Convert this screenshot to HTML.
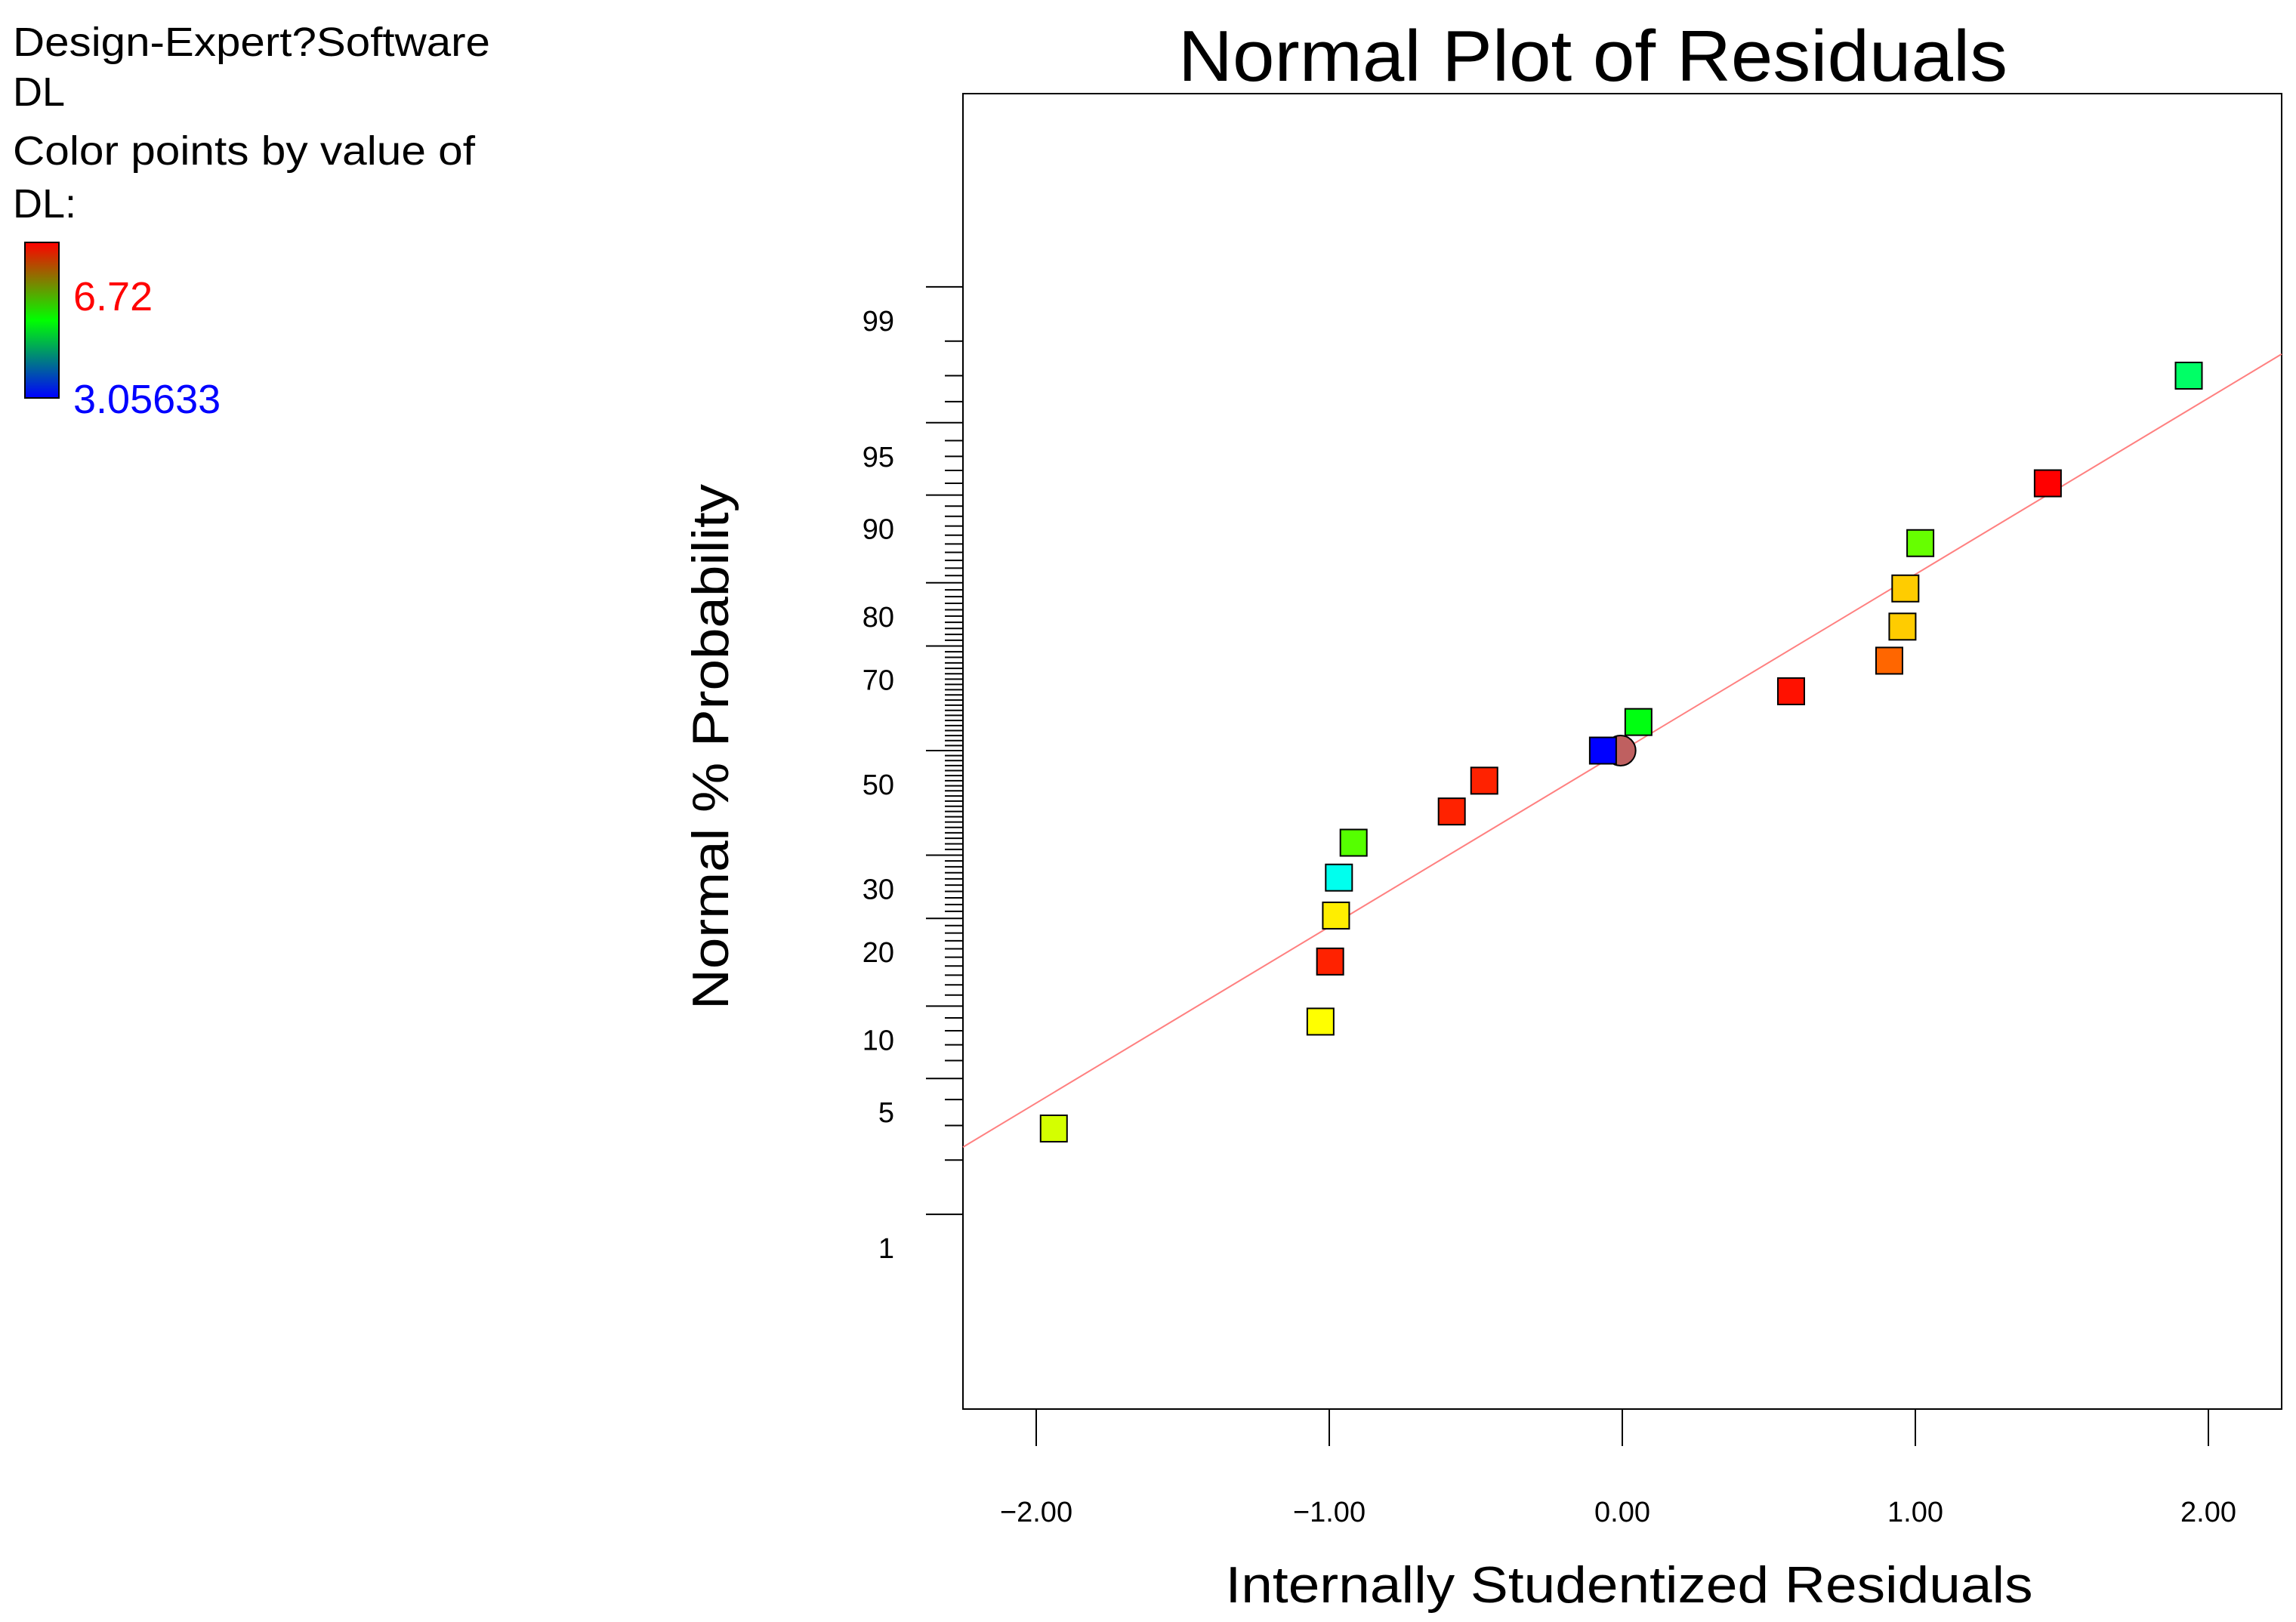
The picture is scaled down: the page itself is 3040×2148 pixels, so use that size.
<!DOCTYPE html>
<html><head><meta charset="utf-8">
<style>
html,body{margin:0;padding:0;background:#fff;}
svg{display:block;font-family:"Liberation Sans",Arial,sans-serif;}
</style></head>
<body>
<svg id="chart" width="3040" height="2148" viewBox="0 0 3040 2148" xmlns="http://www.w3.org/2000/svg">
  <defs>
    <linearGradient id="cbar" x1="0" y1="0" x2="0" y2="1">
      <stop offset="0" stop-color="#ff0000"/>
      <stop offset="0.5" stop-color="#00ff00"/>
      <stop offset="1" stop-color="#0000ff"/>
    </linearGradient>
  </defs>
  <g>
    <text x="17" y="74" font-size="54" textLength="632" lengthAdjust="spacingAndGlyphs">Design-Expert?Software</text>
    <text x="17" y="140" font-size="54">DL</text>
    <text x="17" y="218" font-size="54" textLength="612" lengthAdjust="spacingAndGlyphs">Color points by value of</text>
    <text x="17" y="288" font-size="54">DL:</text>
    <rect x="33" y="321" width="45" height="206" fill="url(#cbar)" stroke="#000" stroke-width="2"/>
    <text x="97" y="411" font-size="54" fill="#ff0000">6.72</text>
    <text x="97" y="547" font-size="54" fill="#0000ff">3.05633</text>
  </g>
  <text x="2109" y="107" font-size="96" text-anchor="middle" textLength="1098" lengthAdjust="spacingAndGlyphs">Normal Plot of Residuals</text>
  <rect x="1275" y="124" width="1746" height="1742" fill="none" stroke="#000" stroke-width="2"/>
  <g id="yaxis"></g>
  <g id="xaxis"></g>
  <g id="plot"></g>
  <text x="2157" y="2122" font-size="68" text-anchor="middle" textLength="1069" lengthAdjust="spacingAndGlyphs">Internally Studentized Residuals</text>
  <text x="0" y="0" font-size="68" text-anchor="middle" textLength="696" lengthAdjust="spacingAndGlyphs" transform="translate(964,989) rotate(-90)">Normal % Probability</text>
</svg>
<script>
const residuals = [-1.94,-1.03,-0.997,-0.977,-0.967,-0.917,-0.582,-0.471,-0.066,-0.006,0.055,0.576,0.911,0.956,0.966,1.017,1.452,1.933];
const probabilities = [2.9,8.7,14.5,20.4,26.2,32.2,38.0,44.0,50.0,50.0,55.7,61.7,67.4,73.3,79.2,85.1,91.0,97.0];
const pointColors = ["#d4ff00","#ffff00","#ff2200","#ffee00","#00ffee","#55ff00","#ff2200","#ff2200","#0000ff","#bf6060","#00ff11","#ff1100","#ff6600","#ffcc00","#ffcc00","#66ff00","#ff0000","#00ff66"];
const pointShapes = ["s","s","s","s","s","s","s","s","s","c","s","s","s","s","s","s","s","s"];
const xTicks = [-2,-1,0,1,2];
const xTickLabels = ["\u22122.00","\u22121.00","0.00","1.00","2.00"];
const yMajor = [1,5,10,20,30,50,70,80,90,95,99];
const lineSlope = 0.884;
const lineDomain = [-2.25,2.25];

const NS="http://www.w3.org/2000/svg";
function erfinvApprox(p){ // inverse normal CDF (Acklam)
  const a=[-39.6968302866538,220.946098424521,-275.928510446969,138.357751867269,-30.6647980661472,2.50662827745924];
  const b=[-54.4760987982241,161.585836858041,-155.698979859887,66.8013118877197,-13.2806815528857];
  const c=[-0.00778489400243029,-0.322396458041136,-2.40075827716184,-2.54973253934373,4.37466414146497,2.93816398269878];
  const d=[0.00778469570904146,0.32246712907004,2.445134137143,3.75440866190742];
  const pl=0.02425;let q,r;
  if(p<pl){q=Math.sqrt(-2*Math.log(p));return (((((c[0]*q+c[1])*q+c[2])*q+c[3])*q+c[4])*q+c[5])/((((d[0]*q+d[1])*q+d[2])*q+d[3])*q+1);}
  if(p>1-pl){q=Math.sqrt(-2*Math.log(1-p));return -(((((c[0]*q+c[1])*q+c[2])*q+c[3])*q+c[4])*q+c[5])/((((d[0]*q+d[1])*q+d[2])*q+d[3])*q+1);}
  q=p-0.5;r=q*q;return (((((a[0]*r+a[1])*r+a[2])*r+a[3])*r+a[4])*r+a[5])*q/(((((b[0]*r+b[1])*r+b[2])*r+b[3])*r+b[4])*r+1);
}
function xScale(v){return 2148+388*v;}
function yZ(z){return 994-264*z;}
function yScale(pct){return yZ(erfinvApprox(pct/100));}
function mk(tag,attrs,parent){const e=document.createElementNS(NS,tag);for(const k in attrs)e.setAttribute(k,attrs[k]);parent.appendChild(e);return e;}

const yaxis=document.getElementById('yaxis');
for(let p=2;p<=98;p++){
  if(yMajor.includes(p))continue;
  const y=yScale(p);
  const t=mk('line',{x1:1251,x2:1275,y1:y,y2:y,stroke:'#000','stroke-width':2},yaxis);
  
  
}
yMajor.forEach(p=>{
  const y=yScale(p);
  const t=mk('line',{x1:1226,x2:1275,y1:y,y2:y,stroke:'#000','stroke-width':2},yaxis);
  
  
  const l=mk('text',{x:1184,y:y+58,'font-size':38,'text-anchor':'end'},yaxis);
  l.textContent=String(p);
  
  
});
const xaxis=document.getElementById('xaxis');
xTicks.forEach((v,i)=>{
  const x=xScale(v);
  const t=mk('line',{x1:x,x2:x,y1:1866,y2:1915,stroke:'#000','stroke-width':2},xaxis);
  
  
  const l=mk('text',{x:x,y:2015,'font-size':38,'text-anchor':'middle'},xaxis);
  l.textContent=xTickLabels[i];
  
  
});
const plot=document.getElementById('plot');
const fit=mk('line',{x1:xScale(lineDomain[0]),y1:yZ(lineSlope*lineDomain[0]),x2:xScale(lineDomain[1]),y2:yZ(lineSlope*lineDomain[1]),stroke:'#ff8080','stroke-width':2},plot);


const order=residuals.map((_,i)=>i).sort((a,b)=>(pointShapes[a]==='c'?-1:0)-(pointShapes[b]==='c'?-1:0));
order.forEach(i=>{
  const cx=xScale(residuals[i]),cy=yScale(probabilities[i]);
  let e;
  if(pointShapes[i]==='c'){
    e=mk('circle',{cx:cx,cy:cy,r:20,fill:pointColors[i],stroke:'#000','stroke-width':2},plot);
    
  } else {
    e=mk('rect',{x:cx-17.5,y:cy-17.5,width:35,height:35,fill:pointColors[i],stroke:'#000','stroke-width':2},plot);
    
  }
  
});
</script>
</body></html>
